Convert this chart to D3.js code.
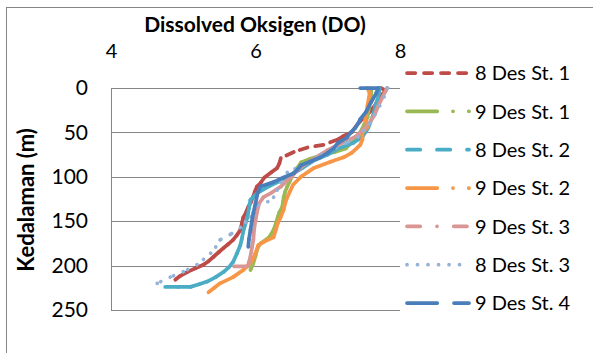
<!DOCTYPE html>
<html>
<head>
<meta charset="utf-8">
<script src="https://cdn.jsdelivr.net/npm/d3@7"></script>
<style>
  html, body { margin: 0; padding: 0; background: #fff; }
  svg text { font-family: Lato, 'Open Sans', sans-serif; fill: #000; }
</style>
</head>
<body>
<svg id="chart" width="593" height="353"></svg>
<script>
const PLOT = { left: 111, right: 400, top: 88, bottom: 310 }
const LINE_WIDTH = 3.75

// x ticks (DO) along the top, y ticks (depth) on the left
const xTicks = [4, 6, 8]
const yTicks = [0, 50, 100, 150, 200, 250]

const seriesNames = ['8 Des St. 1', '9 Des St. 1', '8 Des St. 2', '9 Des St. 2', '9 Des St. 3', '8 Des St. 3', '9 Des St. 4']
const seriesColors = ['#BE4B48', '#98B954', '#4AACC5', '#F79646', '#D99694', '#95B3D7', '#4A7EBB']
// dash patterns as drawn by the spreadsheet (dash, gap, ...); null = round dots
const seriesDashes = [[12, 5], [34, 12, 3.5, 12], [17, 13], [34, 12, 3.5, 12], [17, 13, 3.5, 13], null, [34, 13]]

// 8 Des St. 1
const depth8St1 = [0, 3, 10, 20, 27, 33, 42, 50, 54, 58, 64, 67, 72, 79, 85, 90, 95, 101, 107, 111, 117, 122, 128, 134, 140, 146, 153, 160, 166, 171, 176, 180, 185, 190, 195, 199, 203, 207, 212, 216]
const do8St1 = [7.74, 7.80, 7.72, 7.65, 7.58, 7.50, 7.40, 7.33, 7.22, 7.14, 6.94, 6.72, 6.53, 6.35, 6.33, 6.30, 6.22, 6.12, 6.07, 6.02, 5.99, 5.97, 5.94, 5.90, 5.87, 5.83, 5.81, 5.79, 5.74, 5.69, 5.62, 5.56, 5.49, 5.42, 5.35, 5.28, 5.17, 5.06, 4.95, 4.89]
// 9 Des St. 1
const depth9St1 = [0, 10, 22, 33, 42, 50, 58, 62, 68, 72, 76, 80, 84, 90, 96, 104, 111, 117, 123, 129, 134, 140, 145, 153, 160, 168, 175, 180, 189, 197, 203, 205]
const do9St1 = [7.60, 7.60, 7.57, 7.55, 7.50, 7.45, 7.40, 7.32, 7.25, 7.10, 6.90, 6.75, 6.63, 6.58, 6.53, 6.48, 6.44, 6.41, 6.39, 6.38, 6.37, 6.33, 6.31, 6.28, 6.25, 6.19, 6.07, 6.03, 6.00, 5.97, 5.94, 5.93]
// 8 Des St. 2
const depth8St2 = [0, 10, 20, 30, 45, 55, 62, 68, 75, 82, 90, 100, 105, 110, 118, 126, 135, 145, 153, 162, 170, 177, 187, 196, 202, 207, 213, 218, 221, 224, 224, 224]
const do8St2 = [7.72, 7.70, 7.66, 7.63, 7.56, 7.48, 7.35, 7.15, 7.00, 6.80, 6.65, 6.45, 6.33, 6.20, 6.03, 5.93, 5.91, 5.89, 5.86, 5.83, 5.81, 5.79, 5.74, 5.69, 5.63, 5.56, 5.45, 5.33, 5.22, 5.10, 4.93, 4.75]
// 9 Des St. 2
const depth9St2 = [0, 6, 20, 35, 44, 50, 58, 64, 68, 73, 78, 83, 90, 100, 109, 116, 123, 130, 137, 145, 152, 160, 168, 173, 177, 186, 192, 197, 205, 213, 220, 225, 230]
const do9St2 = [7.55, 7.58, 7.55, 7.52, 7.55, 7.48, 7.48, 7.45, 7.40, 7.33, 7.22, 7.04, 6.81, 6.63, 6.52, 6.48, 6.44, 6.41, 6.39, 6.35, 6.31, 6.28, 6.25, 6.12, 6.04, 6.00, 5.97, 5.93, 5.83, 5.69, 5.51, 5.43, 5.35]
// 9 Des St. 3
const depth9St3 = [0, 10, 20, 30, 40, 48, 55, 60, 65, 70, 75, 80, 85, 90, 95, 100, 104, 111, 118, 123, 130, 140, 149, 160, 171, 180, 190, 196, 201, 201]
const do9St3 = [7.82, 7.76, 7.70, 7.65, 7.57, 7.48, 7.38, 7.25, 7.12, 7.00, 6.90, 6.80, 6.70, 6.62, 6.55, 6.50, 6.44, 6.35, 6.22, 6.11, 6.05, 6.02, 6.00, 5.98, 5.97, 5.95, 5.93, 5.91, 5.89, 5.69]
// 8 Des St. 3
const depth8St3 = [0, 10, 20, 30, 40, 48, 55, 62, 70, 78, 86, 95, 106, 115, 123, 128, 132, 139, 145, 151, 157, 165, 171, 179, 186, 193, 199, 207, 213, 220, 223]
const do8St3 = [7.83, 7.78, 7.72, 7.65, 7.58, 7.50, 7.42, 7.25, 7.05, 6.85, 6.68, 6.44, 6.35, 6.30, 6.25, 6.17, 6.03, 5.98, 5.93, 5.86, 5.79, 5.65, 5.51, 5.45, 5.38, 5.28, 5.19, 5.00, 4.82, 4.64, 4.50]
// 9 Des St. 4
const depth9St4 = [0, 0, 6, 16, 27, 35, 40, 45, 50, 56, 62, 68, 73, 78, 83, 87, 92, 96, 101, 106, 111, 118, 130, 141, 150, 160, 170, 179]
const do9St4 = [7.45, 7.70, 7.67, 7.60, 7.53, 7.45, 7.42, 7.38, 7.32, 7.26, 7.14, 7.08, 7.00, 6.90, 6.75, 6.63, 6.58, 6.53, 6.38, 6.25, 6.07, 6.03, 6.00, 5.97, 5.95, 5.93, 5.91, 5.90]

const seriesDepths = [depth8St1, depth9St1, depth8St2, depth9St2, depth9St3, depth8St3, depth9St4]
const seriesDO = [do8St1, do9St1, do8St2, do9St2, do9St3, do8St3, do9St4]

const series = seriesNames.map((name, i) => ({
  name,
  color: seriesColors[i],
  dash: seriesDashes[i],
  points: seriesDepths[i].map((d, j) => ({ depth: d, value: seriesDO[i][j] })),
}))

// round caps eat half a line width at each dash end, so shorten dashes / widen gaps
function dashArray(dash) {
  if (!dash) return `0.01 ${10.5}`
  return dash.map((v, i) => (i % 2 === 0 ? Math.max(v - LINE_WIDTH, 0.01) : v + LINE_WIDTH)).join(' ')
}

const svg = d3.select('#chart')

// chart frame: only its top and left edges fall inside the picture
svg.append('rect')
  .attr('x', 6.5).attr('y', 7.5)
  .attr('width', 600).attr('height', 360)
  .attr('fill', 'none')
  .attr('stroke', '#868686')

const x = d3.scaleLinear().domain([4, 8]).range([PLOT.left, PLOT.right])
const y = d3.scaleLinear().domain([0, 250]).range([PLOT.top, PLOT.bottom])

// horizontal gridlines
svg.append('g')
  .selectAll('line')
  .data(yTicks)
  .enter()
  .append('line')
  .attr('x1', PLOT.left).attr('x2', PLOT.right)
  .attr('y1', (d) => Math.round(y(d)) + 0.5)
  .attr('y2', (d) => Math.round(y(d)) + 0.5)
  .attr('stroke', '#868686')

svg.append('line')
  .attr('x1', PLOT.left + 0.5).attr('x2', PLOT.left + 0.5)
  .attr('y1', PLOT.top).attr('y2', PLOT.bottom + 1)
  .attr('stroke', '#868686')

// top axis (DO)
const xAxis = svg.append('g')
  .attr('transform', `translate(0,${PLOT.top})`)
  .call(d3.axisTop(x).tickValues(xTicks).tickSize(0).tickPadding(30).tickFormat(d3.format('d')))
xAxis.select('.domain').remove()
xAxis.selectAll('text').style('font-size', '20px').style('font-family', 'Lato, sans-serif')

// left axis (depth)
const yAxis = svg.append('g')
  .attr('transform', `translate(${PLOT.left},0)`)
  .call(d3.axisLeft(y).tickValues(yTicks).tickSize(0).tickPadding(23).tickFormat(d3.format('d')))
yAxis.select('.domain').remove()
yAxis.selectAll('text').style('font-size', '21px').style('font-family', 'Lato, sans-serif')

svg.append('text')
  .attr('x', 255).attr('y', 32)
  .attr('text-anchor', 'middle')
  .attr('font-weight', 'bold')
  .attr('font-size', 21)
  .text('Dissolved Oksigen (DO)')

svg.append('text')
  .attr('transform', 'translate(34,200) rotate(-90)')
  .attr('text-anchor', 'middle')
  .attr('font-weight', 'bold')
  .attr('font-size', 22)
  .text('Kedalaman (m)')

// each segment restarts its dash pattern, like the spreadsheet does
const lines = svg.append('g').attr('class', 'series')
series.forEach((s) => {
  const segs = d3.pairs(s.points)
  lines.append('g')
    .selectAll('line')
    .data(segs)
    .enter()
    .append('line')
    .attr('x1', (d) => x(d[0].value))
    .attr('y1', (d) => y(d[0].depth))
    .attr('x2', (d) => x(d[1].value))
    .attr('y2', (d) => y(d[1].depth))
    .attr('stroke', s.color)
    .attr('stroke-width', LINE_WIDTH)
    .attr('stroke-linecap', 'round')
    .attr('stroke-dasharray', dashArray(s.dash))
})

// legend
const legendY = d3.scalePoint().domain(seriesNames).range([73, 303])
const legend = svg.append('g')
  .selectAll('g')
  .data(series)
  .enter()
  .append('g')
  .attr('transform', (d) => `translate(0,${legendY(d.name)})`)

legend.append('line')
  .attr('x1', 407).attr('x2', 469)
  .attr('stroke', (d) => d.color)
  .attr('stroke-width', LINE_WIDTH)
  .attr('stroke-linecap', 'round')
  .attr('stroke-dasharray', (d) => dashArray(d.dash))

legend.append('text')
  .attr('x', 475)
  .attr('dy', '0.36em')
  .attr('font-size', 20)
  .text((d) => d.name)
</script>
</body>
</html>
